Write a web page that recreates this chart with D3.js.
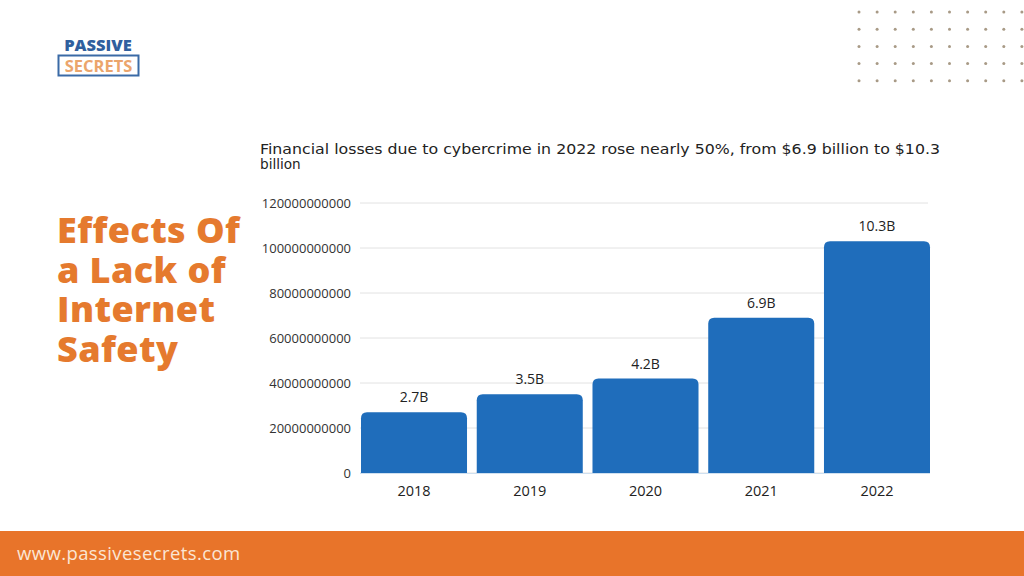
<!DOCTYPE html>
<html>
<head>
<meta charset="utf-8">
<script src="https://cdn.jsdelivr.net/npm/d3@7"></script>
<style>
  body { margin: 0; background: #fff; }
  svg { display: block; font-family: "Open Sans", "DejaVu Sans", sans-serif; }
</style>
</head>
<body>
<div id="chart-container"></div>
<script>
// Chart data
const years = ["2018", "2019", "2020", "2021", "2022"];
const losses = [27e9, 35e9, 42e9, 69e9, 103e9];
const barLabels = ["2.7B", "3.5B", "4.2B", "6.9B", "10.3B"];
const yTicks = [0, 20e9, 40e9, 60e9, 80e9, 100e9, 120e9];
const headingLines = ["Effects Of", "a Lack of", "Internet", "Safety"];
const subtitleLines = ["Financial losses due to cybercrime in 2022 rose nearly 50%, from $6.9 billion to $10.3", "billion"];

const W = 1024, H = 576;
const orange = "#e8742a";

const svg = d3.select("#chart-container").append("svg")
    .attr("width", W)
    .attr("height", H);

// Dotted decoration in the top-right corner
const dotCols = d3.range(10), dotRows = d3.range(5);
const dots = svg.append("g");
dotRows.forEach(r => {
    dotCols.forEach(c => {
        dots.append("circle")
            .attr("cx", 859 + c * 18.1)
            .attr("cy", 12 + r * 17.2)
            .attr("r", 1.5)
            .attr("fill", "#a89a86");
    });
});

// Logo
svg.append("text")
    .attr("x", 98).attr("y", 51)
    .attr("text-anchor", "middle")
    .style("font-family", "'Open Sans', sans-serif")
    .style("font-weight", 800)
    .style("font-size", "16.5px")
    .attr("fill", "#2f5f9e")
    .text("PASSIVE");
svg.append("rect")
    .attr("x", 58.5).attr("y", 55.5)
    .attr("width", 80).attr("height", 20)
    .attr("fill", "#fff")
    .attr("stroke", "#3a6aa6")
    .attr("stroke-width", 2);
svg.append("text")
    .attr("x", 98.5).attr("y", 72)
    .attr("text-anchor", "middle")
    .style("font-family", "'Open Sans', sans-serif")
    .style("font-weight", 700)
    .style("font-size", "16.5px")
    .attr("fill", "#eba56c")
    .text("SECRETS");

// Big heading on the left
svg.append("g").selectAll("text")
    .data(headingLines)
    .enter().append("text")
    .attr("x", 57)
    .attr("y", (d, i) => 243 + i * 39.5)
    .style("font-family", "'Open Sans', sans-serif")
    .style("font-weight", 800)
    .style("font-size", "36px")
    .style("letter-spacing", "0.4px")
    .attr("fill", "#e57a2e")
    .text(d => d);

// Subtitle above the chart
const sub = svg.append("g");
sub.append("text")
    .attr("x", 260).attr("y", 154)
    .attr("textLength", 680)
    .attr("lengthAdjust", "spacingAndGlyphs")
    .style("font-family", "'DejaVu Sans', sans-serif")
    .style("font-size", "13.6px")
    .attr("fill", "#222")
    .text(subtitleLines[0]);
sub.append("text")
    .attr("x", 260).attr("y", 168.5)
    .style("font-family", "'DejaVu Sans', sans-serif")
    .style("font-size", "13.6px")
    .attr("fill", "#222")
    .text(subtitleLines[1]);

// Scales
const x = d3.scaleBand()
    .domain(years)
    .range([361, 930])
    .paddingInner(0.084)
    .paddingOuter(0);

const y = d3.scaleLinear()
    .domain([0, 120e9])
    .range([473, 203]);

// Gridlines
svg.append("g").selectAll("line")
    .data(yTicks)
    .enter().append("line")
    .attr("x1", 360).attr("x2", 928)
    .attr("y1", d => y(d)).attr("y2", d => y(d))
    .attr("stroke", "#e2e2e2")
    .attr("stroke-width", 1);

// Y axis labels
const yAxis = svg.append("g")
    .attr("transform", "translate(351,0)")
    .call(d3.axisLeft(y).tickValues(yTicks).tickFormat(d => String(d)).tickSize(0).tickPadding(0));
yAxis.select(".domain").remove();
yAxis.selectAll("text")
    .style("font-family", "'Open Sans', sans-serif")
    .style("font-size", "13px")
    .attr("fill", "#333");

// Bars with rounded top corners
const r = 6;
function barPath(d, i) {
    const x0 = x(years[i]), w = x.bandwidth();
    const top = y(d), base = y(0);
    return `M${x0},${base} L${x0},${top + r} Q${x0},${top} ${x0 + r},${top} ` +
           `L${x0 + w - r},${top} Q${x0 + w},${top} ${x0 + w},${top + r} L${x0 + w},${base} Z`;
}
svg.append("g").selectAll("path")
    .data(losses)
    .enter().append("path")
    .attr("d", barPath)
    .attr("fill", "#1f6dbb");

// Baseline
svg.append("line")
    .attr("x1", 360).attr("x2", 930)
    .attr("y1", y(0) + 0.5).attr("y2", y(0) + 0.5)
    .attr("stroke", "#cfe0f0");

// Value labels
svg.append("g").selectAll("text")
    .data(losses)
    .enter().append("text")
    .attr("x", (d, i) => x(years[i]) + x.bandwidth() / 2)
    .attr("y", d => y(d) - 10)
    .attr("text-anchor", "middle")
    .style("font-size", "14px")
    .attr("fill", "#222")
    .text((d, i) => barLabels[i]);

// X axis labels
const xAxis = svg.append("g")
    .attr("transform", "translate(0,486)")
    .call(d3.axisBottom(x).tickSize(0).tickPadding(0));
xAxis.select(".domain").remove();
xAxis.selectAll("text")
    .style("font-family", "'Open Sans', sans-serif")
    .style("font-size", "14.5px")
    .attr("fill", "#222");

// Footer band
svg.append("rect")
    .attr("x", 0).attr("y", 531)
    .attr("width", W).attr("height", H - 531)
    .attr("fill", orange);
svg.append("text")
    .attr("x", 17).attr("y", 560)
    .style("font-size", "18.5px")
    .style("letter-spacing", "0.4px")
    .attr("fill", "#fbe6d4")
    .text("www.passivesecrets.com");
</script>
</body>
</html>
